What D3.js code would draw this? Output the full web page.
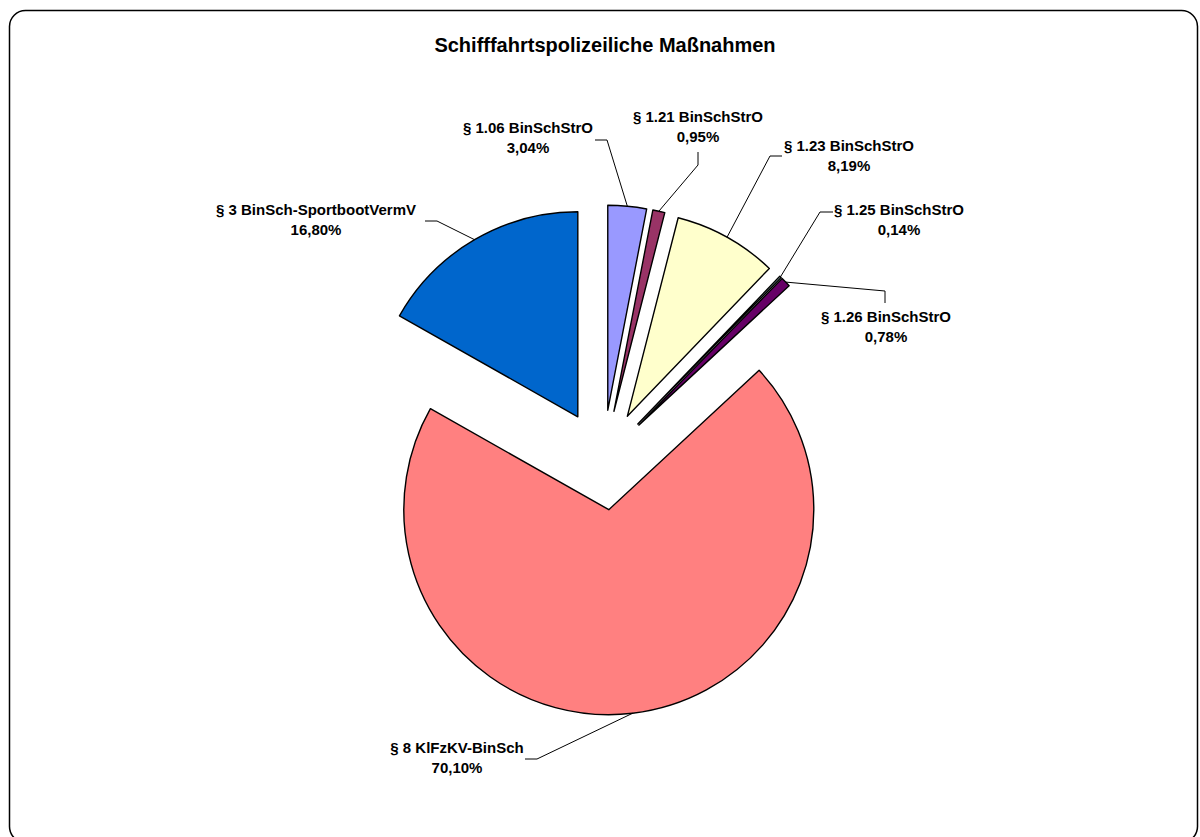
<!DOCTYPE html>
<html>
<head>
<meta charset="utf-8">
<script src="https://cdnjs.cloudflare.com/ajax/libs/d3/7.8.5/d3.min.js"></script>
<style>
body { margin:0; background:white; }
text { font-family:"Liberation Sans", Arial, sans-serif; font-weight:bold; fill:#000; }
.title { font-size:20px; }
.label { font-size:15px; }
</style>
</head>
<body>
<svg id="chart"></svg>
<script>
var categories = ["§ 1.06 BinSchStrO","§ 1.21 BinSchStrO","§ 1.23 BinSchStrO",
                  "§ 1.25 BinSchStrO","§ 1.26 BinSchStrO","§ 8 KlFzKV-BinSch",
                  "§ 3 BinSch-SportbootVermV"];
var values = [3.04, 0.95, 8.19, 0.14, 0.78, 70.10, 16.80];
var colors = ["#9999FF","#993366","#FFFFCC","#CCFFFF","#660066","#FF8080","#0066CC"];

//where each label sits (text centre, first baseline) and the bend of its leader
var labelLayout = [
    {x:528, y:133, bend:[607,140], end:[595,140]},
    {x:698, y:122, bend:[698,165], end:[698,152]},
    {x:849, y:151, bend:[770,156], end:[782,156]},
    {x:899, y:215, bend:[820,212], end:[833,212]},
    {x:886, y:322, bend:[885,291], end:[885,303]},
    {x:457, y:753, bend:[537,759], end:[525,759]},
    {x:316, y:215, bend:[437,221], end:[425,221]}
];

var screen = {width:1200, height:837};
var center = {x:603, y:460};
var radius = 205;
var explode = 50;

var fmt = function(v){ return v.toFixed(2).replace(".",",")+"%"; }

var svg = d3.select("#chart")
    .attr("width",screen.width)
    .attr("height",screen.height);

//frame
svg.append("rect")
    .attr("x",9.5)
    .attr("y",10.5)
    .attr("width",1188)
    .attr("height",832)
    .attr("rx",16)
    .attr("ry",16)
    .attr("fill","white")
    .attr("stroke","#000")
    .attr("stroke-width",1.5);

svg.append("text")
    .classed("title",true)
    .attr("x",605)
    .attr("y",52)
    .attr("text-anchor","middle")
    .text("Schifffahrtspolizeiliche Maßnahmen");

var entries = categories.map(function(c,i){
    return {name:c, value:values[i], color:colors[i], layout:labelLayout[i]};
});

var pie = d3.pie()
    .sort(null)
    .value(function(entry){ return entry.value; });

var arc = d3.arc()
    .innerRadius(0)
    .outerRadius(radius);

var slices = pie(entries);

var offset = function(d){
    var a = (d.startAngle+d.endAngle)/2;
    return [Math.sin(a)*explode, -Math.cos(a)*explode];
}

var g = svg.append("g")
    .attr("transform","translate("+center.x+","+center.y+")");

g.selectAll("path")
    .data(slices)
    .enter()
    .append("path")
    .attr("transform",function(d){
        var o = offset(d);
        return "translate("+o[0]+","+o[1]+")";
    })
    .attr("d",arc)
    .attr("fill",function(d){ return d.data.color; })
    .attr("stroke","#000")
    .attr("stroke-width",1.4)
    .attr("stroke-linejoin","round");

//leader lines from the middle of each outer arc
var anchor = function(d){
    var a = (d.startAngle+d.endAngle)/2;
    var o = offset(d);
    return [center.x+o[0]+Math.sin(a)*radius, center.y+o[1]-Math.cos(a)*radius];
}

svg.append("g")
    .selectAll("path")
    .data(slices)
    .enter()
    .append("path")
    .attr("d",function(d){
        return d3.line()([anchor(d), d.data.layout.bend, d.data.layout.end]);
    })
    .attr("fill","none")
    .attr("stroke","#000")
    .attr("stroke-width",1);

var labels = svg.append("g")
    .selectAll("text")
    .data(slices)
    .enter()
    .append("text")
    .classed("label",true)
    .attr("text-anchor","middle")
    .attr("x",function(d){ return d.data.layout.x; })
    .attr("y",function(d){ return d.data.layout.y; });

labels.append("tspan")
    .text(function(d){ return d.data.name; });

labels.append("tspan")
    .attr("x",function(d){ return d.data.layout.x; })
    .attr("dy",20)
    .text(function(d){ return fmt(d.data.value); });
</script>
</body>
</html>
